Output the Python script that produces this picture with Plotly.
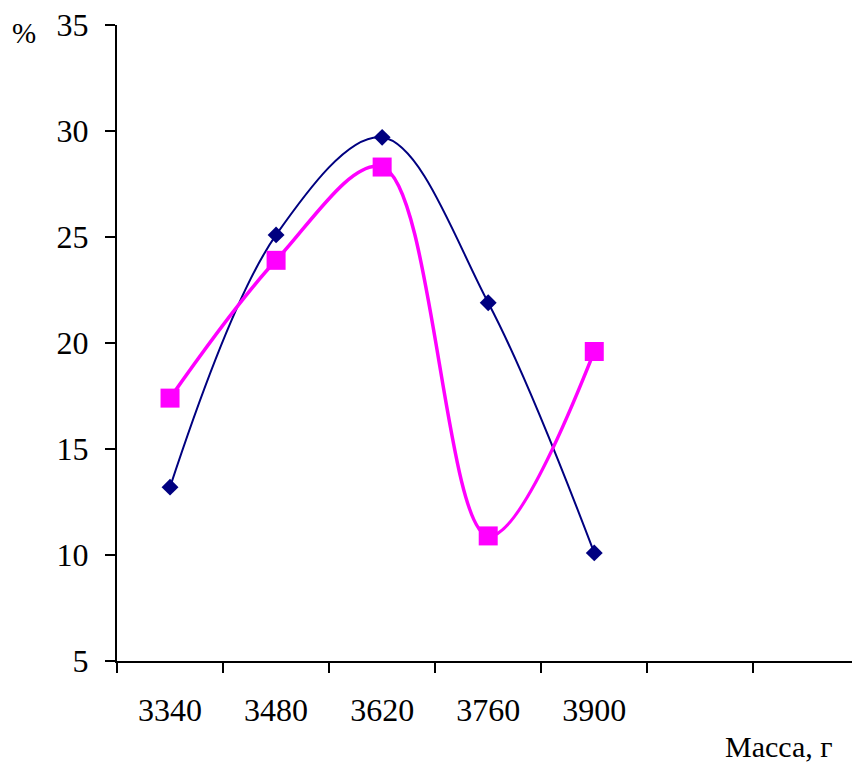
import plotly.graph_objects as go

# Birth-weight classes (g) and share of cases (%) for two groups
mass_labels = ["3340", "3480", "3620", "3760", "3900"]
group_a = [13.2, 25.1, 29.7, 21.9, 10.1]
group_b = [17.4, 23.9, 28.3, 10.9, 19.6]

x_pos = list(range(1, len(mass_labels) + 1))
FONT = "Liberation Serif, Times New Roman, serif"

fig = go.Figure()
fig.add_trace(go.Scatter(
    x=x_pos, y=group_a, mode="lines+markers",
    line=dict(color="#000080", width=2, shape="spline", smoothing=1),
    marker=dict(symbol="diamond", size=13, color="#000080"),
    showlegend=False,
))
fig.add_trace(go.Scatter(
    x=x_pos, y=group_b, mode="lines+markers",
    line=dict(color="#FF00FF", width=3.5, shape="spline", smoothing=1),
    marker=dict(symbol="square", size=19, color="#FF00FF"),
    showlegend=False,
))

fig.update_layout(
    width=852, height=764,
    margin=dict(l=117, r=0, t=25, b=103),
    paper_bgcolor="white", plot_bgcolor="white",
    font=dict(family=FONT, size=32, color="black"),
    xaxis=dict(
        range=[0.5, 7.43], tickmode="array", tickvals=x_pos, ticktext=mass_labels,
        ticks="", showgrid=False, zeroline=False,
        showline=True, linecolor="black", linewidth=2,
        ticklabelstandoff=20,
        minor=dict(tick0=0.5, dtick=1, ticks="outside", ticklen=10,
                   tickwidth=2, tickcolor="black", showgrid=False),
    ),
    yaxis=dict(
        range=[5, 35], tickmode="linear", tick0=5, dtick=5,
        ticks="outside", ticklen=10, tickwidth=2, tickcolor="black",
        showgrid=False, zeroline=False,
        showline=True, linecolor="black", linewidth=2,
        ticklabelstandoff=10,
    ),
    annotations=[
        dict(text="%", xref="paper", yref="paper", x=-0.145, y=0.987,
             xanchor="left", yanchor="middle", showarrow=False,
             font=dict(family=FONT, size=29)),
        dict(text="Масса, г", xref="paper", yref="paper", x=0.977, y=-0.1635,
             xanchor="right", yanchor="bottom", showarrow=False,
             font=dict(family=FONT, size=30)),
    ],
)

fig.write_html("out.html")
